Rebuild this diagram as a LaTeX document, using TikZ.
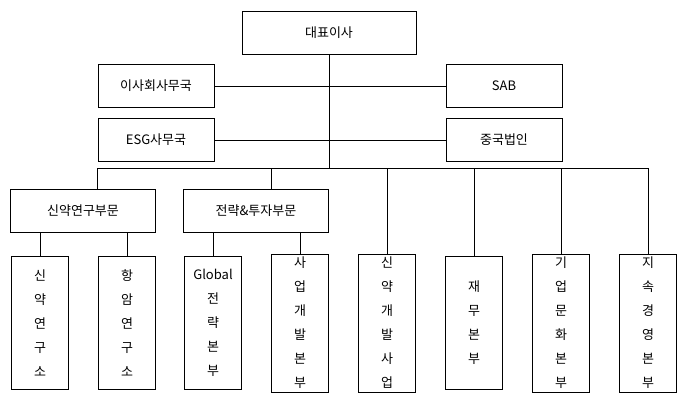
\documentclass[tikz,border=0pt]{standalone}
\usepackage{fontspec}
\setmainfont{Noto Sans CJK KR}
\begin{document}
\begin{tikzpicture}[x=1pt,y=-1pt,
topbox/.style={draw=black, minimum width=116pt, minimum height=43pt, font=\fontsize{13}{15}\selectfont},
partbox/.style={draw=black, minimum width=145pt, minimum height=43pt, font=\fontsize{13}{15}\selectfont},
colbox/.style={draw=black, minimum width=57pt, minimum height=133pt, align=center, font=\fontsize{13}{24}\selectfont},
]
\useasboundingbox (0,0) rectangle (692,400);
%Nodes
\node[topbox, minimum width=174pt] at (329,33) (ceo) {대표이사};
\node[topbox] at (156,86) (board) {이사회사무국};
\node[topbox] at (504,86) (sab) {SAB};
\node[topbox] at (156,140) (esg) {ESG사무국};
\node[topbox] at (504,140) (china) {중국법인};
\node[partbox] at (83,211) (research) {신약연구부문};
\node[partbox] at (256,211) (strategy) {전략\&투자부문};
\node[colbox] at (40,323) (col1) {신\\약\\연\\구\\소};
\node[colbox] at (127,323) (col2) {항\\암\\연\\구\\소};
\node[colbox] at (213,323) (col3) {Global\\전\\략\\본\\부};
\node[colbox] at (300,323) (col4) {사\\업\\개\\발\\본\\부};
\node[colbox] at (387,323) (col5) {신\\약\\개\\발\\사\\업};
\node[colbox] at (474,323) (col6) {재\\무\\본\\부};
\node[colbox] at (561,323) (col7) {기\\업\\문\\화\\본\\부};
\node[colbox] at (648,323) (col8) {지\\속\\경\\영\\본\\부};
\coordinate (busL) at (97,168);
\coordinate (busR) at (648,168);
%Lines
\draw (ceo.south) -- (ceo.south |- busL);
\draw (board) -- (sab);
\draw (esg) -- (china);
\draw (busL) -- (busR);
\draw (busL) -- (busL |- research.north);
\draw (busL -| 271,0) -- (271,0 |- strategy.north);
\foreach \c in {col5,col6,col7,col8}
  \draw (busL -| \c.north) -- (\c.north);
\draw (research.south -| col1.north) -- (col1.north);
\draw (research.south -| col2.north) -- (col2.north);
\draw (strategy.south -| col3.north) -- (col3.north);
\draw (strategy.south -| col4.north) -- (col4.north);
\end{tikzpicture}
\end{document}
